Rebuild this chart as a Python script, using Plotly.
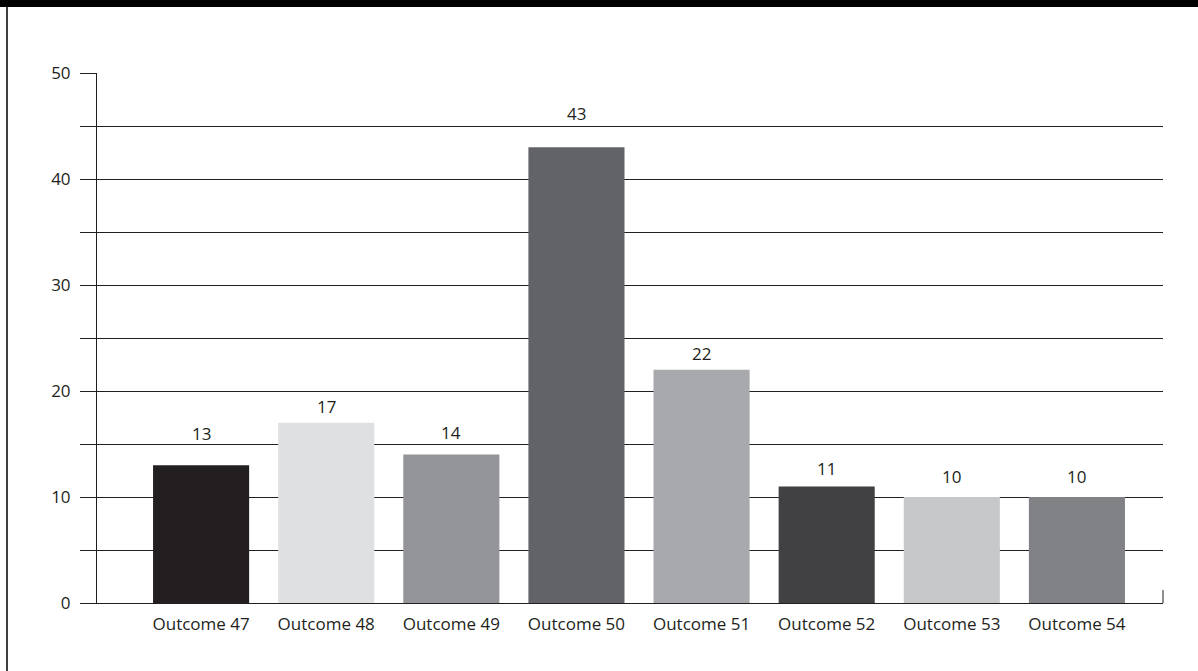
import plotly.graph_objects as go

categories = ["Outcome 47", "Outcome 48", "Outcome 49", "Outcome 50",
              "Outcome 51", "Outcome 52", "Outcome 53", "Outcome 54"]
values = [13, 17, 14, 43, 22, 11, 10, 10]
bar_colors = ["#231f20", "#dfe0e2", "#939598", "#626366",
              "#a7a9ac", "#414042", "#c7c8ca", "#808285"]
y_tick_vals = [0, 5, 10, 15, 20, 25, 30, 35, 40, 45, 50]
y_tick_text = ["0", "", "10", "", "20", "", "30", "", "40", "", "50"]

# pixel offsets of value labels above bar tops (styling only)
label_shift = [32, 16, 22, 34, 16, 18, 21, 21]

W, H = 1198, 671
L, R, T, B = 97, 1198 - 1163, 73, 671 - 603
INK = "#231f20"
FONT = "Open Sans"
FS = 17

fig = go.Figure()
fig.add_trace(go.Bar(
    x=categories, y=values, marker=dict(color=bar_colors, line=dict(width=0)),
    width=0.768, showlegend=False, hoverinfo="x+y",
))

for c, v, s in zip(categories, values, label_shift):
    fig.add_annotation(x=c, y=v, text=str(v), showarrow=False, yanchor="middle",
                       yshift=s, font=dict(family=FONT, size=FS, color=INK))

pw = W - L - R
ph = H - T - B
# black band at top of image
fig.add_shape(type="rect", xref="paper", yref="paper",
              x0=-L / pw, x1=(W - L) / pw, y0=(H - B - 7) / ph, y1=(H - B) / ph + 0.01,
              fillcolor="black", line=dict(width=0), layer="above")
# left frame line
fig.add_shape(type="line", xref="paper", yref="paper",
              x0=(7 - L) / pw, x1=(7 - L) / pw, y0=-(B) / ph - 0.01, y1=(H - B - 7) / ph,
              line=dict(color="black", width=1.5))
# small end tick at right of x axis
fig.add_shape(type="line", xref="paper", yref="paper",
              x0=1.0, x1=1.0, y0=0, y1=13 / ph,
              line=dict(color=INK, width=1))

fig.update_layout(
    width=W, height=H,
    margin=dict(l=L, r=R, t=T, b=B, pad=0),
    paper_bgcolor="white", plot_bgcolor="white",
    font=dict(family=FONT, size=FS, color=INK),
    xaxis=dict(
        range=[-0.832, 7.688], showgrid=False, showline=True, linecolor=INK,
        linewidth=1, ticks="", tickfont=dict(family=FONT, size=FS, color=INK),
        zeroline=False, fixedrange=True, ticklabelstandoff=6,
    ),
    yaxis=dict(
        range=[0, 50], tickvals=y_tick_vals, ticktext=y_tick_text,
        showgrid=True, gridcolor=INK, gridwidth=1,
        showline=True, linecolor=INK, linewidth=1,
        ticks="outside", ticklen=16, tickcolor=INK, tickwidth=1,
        zeroline=False, tickfont=dict(family=FONT, size=FS, color=INK),
        fixedrange=True, ticklabelstandoff=6,
    ),
)

fig.write_html("out.html")
